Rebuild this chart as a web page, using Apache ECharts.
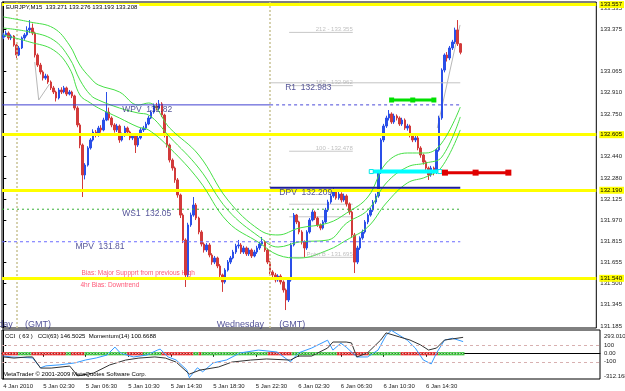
<!DOCTYPE html>
<html><head><meta charset="utf-8">
<script src="https://cdn.jsdelivr.net/npm/echarts@6/dist/echarts.min.js"></script>
<style>html,body{margin:0;padding:0;background:#fff}#c{width:625px;height:391px}</style>
</head><body><div id="c"></div>
<script>
// ---------------- DATA ----------------
const symbolName = 'EURJPY,M15';
const opens = [
133.320,133.336,133.350,133.314,133.328,133.262,133.188,133.240,133.314,133.336,
133.373,133.387,133.350,133.188,133.114,133.063,133.018,133.033,132.989,132.945,
132.915,132.871,132.930,132.915,132.945,132.900,132.915,132.886,132.797,132.672,
132.524,132.303,132.376,132.502,132.561,132.620,132.598,132.649,132.635,132.708,
132.767,132.723,132.672,132.635,132.664,132.561,132.598,132.649,132.620,132.576,
132.590,132.524,132.576,132.635,132.649,132.679,132.723,132.767,132.812,132.797,
132.827,132.745,132.598,132.524,132.413,132.354,132.266,132.155,132.007,131.823,
131.565,131.934,132.007,132.081,131.985,131.882,131.793,131.749,131.786,131.712,
131.660,131.690,131.631,131.565,131.513,131.601,131.660,131.690,131.734,131.779,
131.786,131.734,131.764,131.720,131.749,131.705,131.734,131.764,131.793,131.808,
131.749,131.660,131.587,131.565,131.528,131.557,131.513,131.454,131.380,131.528,
131.786,132.007,131.956,131.882,131.808,131.764,131.882,131.970,132.029,131.985,
131.934,131.911,131.956,132.044,132.103,132.148,132.177,132.133,132.162,132.118,
132.148,132.089,132.029,131.860,131.660,131.764,131.838,131.882,131.956,132.007,
132.044,132.103,132.148,132.325,132.561,132.664,132.723,132.753,132.694,132.738,
132.723,132.679,132.708,132.649,132.664,132.598,132.561,132.576,132.502,132.450,
132.398,132.354,132.303,132.354,132.325,132.487,132.723,133.077,133.188,133.166,
133.240,133.284,133.373,133.271];
const closes = [
133.336,133.350,133.314,133.328,133.262,133.188,133.240,133.314,133.336,133.373,
133.387,133.350,133.188,133.114,133.063,133.018,133.033,132.989,132.945,132.915,
132.871,132.930,132.915,132.945,132.900,132.915,132.886,132.797,132.672,132.524,
132.303,132.376,132.502,132.561,132.620,132.598,132.649,132.635,132.708,132.767,
132.723,132.672,132.635,132.664,132.561,132.598,132.649,132.620,132.576,132.590,
132.524,132.576,132.635,132.649,132.679,132.723,132.767,132.812,132.797,132.827,
132.745,132.598,132.524,132.413,132.354,132.266,132.155,132.007,131.823,131.565,
131.934,132.007,132.081,131.985,131.882,131.793,131.749,131.786,131.712,131.660,
131.690,131.631,131.565,131.513,131.601,131.660,131.690,131.734,131.779,131.786,
131.734,131.764,131.720,131.749,131.705,131.734,131.764,131.793,131.808,131.749,
131.660,131.587,131.565,131.528,131.557,131.513,131.454,131.380,131.528,131.786,
132.007,131.956,131.882,131.808,131.764,131.882,131.970,132.029,131.985,131.934,
131.911,131.956,132.044,132.103,132.148,132.177,132.133,132.162,132.118,132.148,
132.089,132.029,131.860,131.660,131.764,131.838,131.882,131.956,132.007,132.044,
132.103,132.148,132.325,132.561,132.664,132.723,132.753,132.694,132.738,132.723,
132.679,132.708,132.649,132.664,132.598,132.561,132.576,132.502,132.450,132.398,
132.354,132.303,132.354,132.325,132.487,132.723,133.077,133.188,133.166,133.240,
133.284,133.373,133.271,133.208];
const lows = [
133.305,133.322,133.300,133.298,133.250,133.166,133.180,133.232,133.300,133.325,
133.350,133.335,133.170,133.100,133.045,133.000,133.005,132.975,132.930,132.900,
132.845,132.860,132.900,132.905,132.885,132.890,132.870,132.780,132.655,132.500,
132.140,132.270,132.365,132.490,132.550,132.580,132.585,132.615,132.625,132.700,
132.705,132.655,132.615,132.620,132.540,132.550,132.585,132.600,132.560,132.560,
132.465,132.510,132.565,132.620,132.635,132.670,132.715,132.755,132.780,132.785,
132.730,132.580,132.505,132.395,132.335,132.245,132.135,131.985,131.800,131.476,
131.550,131.920,131.995,131.970,131.865,131.775,131.730,131.735,131.695,131.640,
131.645,131.615,131.545,131.440,131.500,131.590,131.645,131.680,131.720,131.760,
131.720,131.720,131.705,131.705,131.690,131.695,131.720,131.750,131.780,131.735,
131.645,131.570,131.545,131.510,131.515,131.495,131.435,131.306,131.365,131.515,
131.775,131.940,131.865,131.790,131.697,131.750,131.870,131.960,131.970,131.920,
131.895,131.900,131.945,132.030,132.090,132.135,132.120,132.120,132.100,132.105,
132.070,132.010,131.840,131.579,131.645,131.750,131.825,131.870,131.940,131.995,
132.030,132.090,132.135,132.310,132.545,132.650,132.705,132.680,132.680,132.705,
132.665,132.665,132.635,132.630,132.580,132.545,132.545,132.485,132.430,132.380,
132.335,132.266,132.290,132.300,132.310,132.475,132.710,133.060,133.140,133.150,
133.225,133.270,133.255,133.193];
const highs = [
133.352,133.368,133.362,133.340,133.335,133.270,133.255,133.325,133.350,133.400,
133.446,133.420,133.360,133.200,133.130,133.075,133.050,133.045,133.000,132.960,
132.925,132.945,132.950,132.960,132.955,132.930,132.925,132.895,132.810,132.685,
132.535,132.390,132.515,132.575,132.640,132.635,132.665,132.670,132.725,132.915,
132.800,132.735,132.685,132.680,132.675,132.615,132.665,132.660,132.630,132.610,
132.600,132.590,132.650,132.665,132.695,132.740,132.780,132.830,132.835,132.856,
132.840,132.755,132.610,132.535,132.425,132.365,132.280,132.165,132.020,131.835,
131.950,132.025,132.140,132.095,131.995,131.895,131.805,131.800,131.800,131.725,
131.705,131.700,131.645,131.575,131.615,131.675,131.705,131.750,131.795,131.823,
131.800,131.780,131.775,131.765,131.760,131.750,131.780,131.810,131.845,131.820,
131.760,131.670,131.600,131.580,131.570,131.570,131.525,131.465,131.540,131.800,
132.022,132.015,131.965,131.895,131.820,131.895,131.985,132.044,132.040,131.995,
131.945,131.970,132.060,132.120,132.165,132.214,132.190,132.180,132.175,132.165,
132.160,132.100,132.040,131.875,131.780,131.850,131.900,131.970,132.020,132.060,
132.118,132.165,132.340,132.575,132.680,132.740,132.782,132.765,132.755,132.750,
132.735,132.725,132.720,132.680,132.675,132.610,132.590,132.590,132.515,132.460,
132.410,132.365,132.370,132.365,132.500,132.740,133.090,133.200,133.210,133.255,
133.300,133.390,133.446,133.276];

// time axis labels (bar index -> label)
const timeIdx = [0,15,31,47,63,79,95,111,127,143,159];
const timeLabels = ['4 Jan 2010','5 Jan 02:30','5 Jan 06:30','5 Jan 10:30','5 Jan 14:30','5 Jan 18:30','5 Jan 22:30','6 Jan 02:30','6 Jan 06:30','6 Jan 10:30','6 Jan 14:30'];
const daySeparators = [5, 101];

// price axis tick labels
const priceTicks = [131.185,131.345,131.500,131.655,131.815,131.970,132.125,132.280,132.440,132.595,132.750,132.910,133.065,133.375,133.535];

// envelope moving averages (sampled)
const maIdx = [0,10,19,25,29,33,36,44,51,55,63,74,85,97,104,112,123,130,138,145,153,160,166,173];
const maUpper = [133.469,133.432,133.387,133.262,133.114,133.018,132.967,132.915,132.819,132.834,132.649,132.450,132.118,131.897,131.860,131.911,131.948,132.022,132.140,132.391,132.465,132.465,132.539,132.804];
const maMiddle = [133.387,133.358,133.299,133.166,133.004,132.893,132.856,132.797,132.760,132.745,132.583,132.354,132.044,131.845,131.771,131.808,131.823,131.948,132.044,132.244,132.362,132.391,132.435,132.731];
const maLower = [133.336,133.284,133.225,133.092,132.893,132.834,132.797,132.723,132.657,132.635,132.502,132.266,131.956,131.801,131.712,131.690,131.749,131.823,131.919,132.096,132.244,132.288,132.362,132.635];

// thin grey swing lines (bar index, price)
const swingIdx = [11.9, 13.4, 17.5, null, 164.3, 172.9];
const swingVals = [133.136, 132.856, 132.974, null, 132.649, 133.410];

// horizontal levels
const yellowLevels = [133.557, 132.605, 132.190, 131.540];
const pivotNames = ['WPV','R1','DPV','WS1','MPV'];
const pivotValues = [132.82, 132.983, 132.209, 132.05, 131.81];
const fibLabels = ['212 - 133.355','162 - 132.962','100 - 132.478','','','Point B - 131.695'];
const fibValues = [133.355, 132.962, 132.478, 132.087, 131.994, 131.695];
const greenLevel = 132.856, cyanLevel = 132.328, redLevel = 132.320;
const biasNotes = ['Bias: Major Suppprt from previous High', '4hr Bias: Downtrend'];

// sub window: CCI(63) & Momentum(14)
const cciIdx = [0,3,11,14,16,21,27,31,35,39,42,44,49,54,58,59,62,65,69,70,73,75,79,84,89,96,103,108,111,116,122,124,127,129,133,137,141,144,146,152,155,158,161,163,166,169,173];
const cciVals = [-28,-40,-52,-174,-150,-138,-113,-77,-52,-16,82,9,-40,-16,45,57,-40,-77,-199,-296,-174,-223,-113,-77,9,45,21,-101,9,70,167,45,130,82,-40,-40,45,228,289,167,70,-77,-126,9,167,191,150];
const momIdx = [0,4,9,11,14,18,25,28,34,40,46,51,57,61,65,70,74,81,86,93,99,108,111,116,122,124,129,131,133,137,142,144,149,153,157,160,163,166,169,173];
const momVals = [99.79,99.74,99.79,99.79,99.29,99.29,99.38,98.94,99.07,99.43,99.65,99.74,99.79,99.74,99.56,99.02,99.20,99.34,99.56,99.65,99.70,99.65,99.83,99.83,100.19,100.46,100.46,100.42,99.79,99.97,100.55,100.87,100.69,100.55,100.33,100.10,100.19,100.55,100.60,100.67];
// colour band runs (R = red, G = green), in bars
const bandRuns = [['R',6],['G',5],['R',13],['G',2],['R',5],['G',16],['R',6],['G',7],['R',12],['G',2],['R',1],['G',25],['R',9],['G',17],['R',12],['G',12],['R',14],['G',10]];
const cciLevels = [100, 0, -100];
const cciLevelText = ['100','0.00','-100'];
const cciMax = 293.010, cciMin = -312.168;
const cciLast = 146.5025, momLast = 100.6688;

// ---------------- BUILD ----------------
const SLOTS = 225;
const FONT = 'Liberation Sans';
const cats = Array.from({length: SLOTS}, (_, i) => String(i));
const nBars = closes.length;
const candleRows = closes.map((c, i) => [opens[i], c, lows[i], highs[i]]);
const bandColors = [];
bandRuns.forEach(([c, n]) => { for (let k = 0; k < n; k++) bandColors.push(c); });
const RED = '#e62a2a', GRN = '#3cc43c';
const pairs = (idx, vals) => idx.map((x, k) => [x, vals[k]]);
const last = nBars - 1;

const pivotSegs = [
  {v: pivotValues[0], a: -0.5, b: 101, color: '#4040d0', type: 'solid', w: 1},
  {v: pivotValues[0], a: 101, b: 173, color: '#4848d8', type: [3, 3], w: 1},
  {v: pivotValues[1], a: 101, b: 173, color: '#c4c4c4', type: 'solid', w: 1},
  {v: pivotValues[2], a: 101, b: 173, color: '#1e1e9a', type: 'solid', w: 2},
  {v: pivotValues[3], a: -0.5, b: 173, color: '#38b038', type: [2, 3], w: 1},
  {v: pivotValues[4], a: -0.5, b: 173, color: '#6c6cff', type: [3, 3], w: 1}
];

const navy = '#28287e';
const notes = [
  {t: pivotNames[0] + '  ' + pivotValues[0], x: 45.0, y: 132.782, c: navy, s: 8.5},
  {t: pivotNames[1] + '  ' + pivotValues[1], x: 106.7, y: 132.945, c: navy, s: 8.5},
  {t: pivotNames[2] + '  ' + pivotValues[2], x: 104.5, y: 132.170, c: navy, s: 8.5},
  {t: pivotNames[3] + '  ' + pivotValues[3], x: 45.0, y: 132.015, c: navy, s: 8.5},
  {t: pivotNames[4] + '  ' + pivotValues[4], x: 27.3, y: 131.775, c: navy, s: 8.5},
  {t: biasNotes[0], x: 29.6, y: 131.579, c: '#ff2d55', s: 6.5},
  {t: biasNotes[1], x: 29.2, y: 131.491, c: '#ff2d55', s: 6.5},
  {t: 'Tuesday', x: 3.6, y: 131.196, c: navy, s: 9, al: 'right'},
  {t: '(GMT)', x: 8.2, y: 131.196, c: navy, s: 9},
  {t: 'Wednesday', x: 80.8, y: 131.196, c: navy, s: 9},
  {t: '(GMT)', x: 104.5, y: 131.196, c: navy, s: 9}
];
fibLabels.forEach((t, k) => { if (t) notes.push({t, x: 132.3, y: fibValues[k], c: '#b0b0b0', s: 6, al: 'right', va: 'bottom'}); });

const series = [];
series.push({
  type: 'candlestick', name: symbolName, xAxisIndex: 0, yAxisIndex: 0, data: candleRows,
  barWidth: 2, z: 3,
  itemStyle: {color: '#2a4fe8', color0: '#d23a3a', borderColor: '#2a4fe8', borderColor0: '#d23a3a', borderWidth: 1},
  markLine: {
    silent: true, symbol: ['none', 'none'], animation: false, z: 4,
    data: [
      ...daySeparators.map(d => ({xAxis: cats[d], lineStyle: {color: '#c9c294', type: [2, 2], width: 1.5}, label: {show: false}})),
      ...yellowLevels.map(v => ({yAxis: v, lineStyle: {color: '#ffff00', type: 'solid', width: 3},
        label: {show: true, position: 'end', distance: 3, formatter: v.toFixed(3), backgroundColor: '#ffff00', color: '#000', fontSize: 6, fontFamily: FONT, padding: [1, 2, 0, 1]}})),
      {yAxis: closes[last], lineStyle: {opacity: 0}, label: {show: true, position: 'end', distance: 3, formatter: closes[last].toFixed(3), backgroundColor: '#000080', color: '#fff', fontSize: 6, fontFamily: FONT, padding: [2, 3, 1, 1]}}
    ]
  }
});
[maUpper, maMiddle, maLower].forEach(vals => series.push({
  type: 'line', xAxisIndex: 2, yAxisIndex: 0, data: pairs(maIdx, vals), smooth: 0.4, symbol: 'none',
  lineStyle: {color: '#46e046', width: 1}, z: 4, silent: true
}));
series.push({type: 'line', xAxisIndex: 2, yAxisIndex: 0, symbol: 'none', connectNulls: false, z: 2, silent: true,
  data: swingIdx.map((x, k) => x === null ? '-' : [x, swingVals[k]]), lineStyle: {color: '#b8b8b8', width: 1}});
pivotSegs.forEach(p => series.push({
  type: 'line', xAxisIndex: 2, yAxisIndex: 0, data: [[p.a, p.v], [p.b, p.v]], symbol: 'none',
  lineStyle: {color: p.color, type: p.type, width: p.w}, z: 4, silent: true
}));
fibValues.forEach(v => series.push({
  type: 'line', xAxisIndex: 2, yAxisIndex: 0, data: [[108.2, v], [132.3, v]], symbol: 'none',
  lineStyle: {color: '#c8c8c8', width: 1}, z: 2, silent: true
}));
series.push({type: 'line', xAxisIndex: 2, yAxisIndex: 0, data: [[147, greenLevel], [155, greenLevel], [163, greenLevel]],
  symbol: 'rect', symbolSize: [5, 5], itemStyle: {color: '#00e000'}, lineStyle: {color: '#00e000', width: 3}, z: 6, silent: true});
series.push({type: 'line', xAxisIndex: 2, yAxisIndex: 0, data: [[139.3, cyanLevel], [165.3, cyanLevel]],
  symbol: 'rect', symbolSize: [4, 4], itemStyle: {color: '#ffffff', borderColor: '#00e8e8', borderWidth: 1}, lineStyle: {color: '#00ffff', width: 4}, z: 6, silent: true});
series.push({type: 'line', xAxisIndex: 2, yAxisIndex: 0, data: [[167.2, redLevel], [178.8, redLevel], [191.2, redLevel]],
  symbol: 'rect', symbolSize: [6, 6], itemStyle: {color: '#e00000'}, lineStyle: {color: '#e00000', width: 3}, z: 6, silent: true});
series.push({
  type: 'scatter', xAxisIndex: 2, yAxisIndex: 0, symbolSize: 0, itemStyle: {color: 'rgba(0,0,0,0)'}, z: 8, silent: true,
  labelLayout: {hideOverlap: false},
  data: notes.map(n => ({value: [n.x, n.y], label: {show: true, position: 'inside', formatter: n.t, align: n.al || 'left', verticalAlign: n.va || 'middle', fontSize: n.s, color: n.c, fontFamily: FONT}}))
});
// sub window
series.push({type: 'bar', xAxisIndex: 1, yAxisIndex: 1, barWidth: '100%', barGap: '-100%', silent: true, z: 2,
  data: bandColors.map(c => ({value: 20, itemStyle: {color: c === 'R' ? RED : GRN}})),
  markLine: {silent: true, symbol: ['none', 'none'], animation: false, label: {show: false},
    data: [[{coord: [cats[0], 0]}, {coord: [cats[last], 0]}]], lineStyle: {color: '#ffffff', type: [1, 2], width: 1}}
});
series.push({type: 'bar', xAxisIndex: 1, yAxisIndex: 1, barWidth: '100%', barGap: '-100%', silent: true, z: 2,
  data: bandColors.map(c => ({value: -20, itemStyle: {color: c === 'R' ? RED : GRN}}))});
series.push({type: 'line', xAxisIndex: 3, yAxisIndex: 1, data: pairs(cciIdx, cciVals), symbol: 'none',
  lineStyle: {color: '#3399ff', width: 1}, z: 4, silent: true,
  markLine: {silent: true, symbol: ['none', 'none'], animation: false, label: {show: false},
    data: [{yAxis: 100}, {yAxis: -100}], lineStyle: {color: '#d8b0b0', type: [3, 3], width: 1}}});
series.push({type: 'line', xAxisIndex: 3, yAxisIndex: 2, data: pairs(momIdx, momVals), symbol: 'none',
  lineStyle: {color: '#333333', width: 1}, z: 4, silent: true});

const showIdx = (i) => timeIdx.indexOf(i) >= 0;
const option = {
  animation: false,
  backgroundColor: '#ffffff',
  textStyle: {fontFamily: FONT},
  grid: [
    {left: 2, right: 25, top: 2, height: 326, show: true, borderColor: '#000', borderWidth: 1},
    {left: 2, right: 25, top: 330, height: 49, show: true, borderColor: '#000', borderWidth: 1}
  ],
  xAxis: [
    {type: 'category', gridIndex: 0, data: cats, boundaryGap: true, show: false},
    {type: 'category', gridIndex: 1, data: cats, boundaryGap: true,
      axisLine: {show: true, lineStyle: {color: '#000'}},
      axisTick: {show: true, alignWithLabel: true, interval: showIdx, length: 3, lineStyle: {color: '#000'}},
      axisLabel: {interval: showIdx, formatter: (v, i) => timeLabels[timeIdx.indexOf(Number(v))] || '', align: 'left', fontSize: 6, color: '#222', margin: 4, fontFamily: FONT},
      splitLine: {show: false}},
    {type: 'value', gridIndex: 0, min: -0.5, max: SLOTS - 0.5, show: false},
    {type: 'value', gridIndex: 1, min: -0.5, max: SLOTS - 0.5, show: false}
  ],
  yAxis: [
    {type: 'value', gridIndex: 0, position: 'right', min: 131.1734, max: 133.5793,
      splitLine: {show: false}, axisLine: {show: true, lineStyle: {color: '#000'}},
      axisTick: {show: true, length: 3, customValues: priceTicks, lineStyle: {color: '#000'}},
      axisLabel: {customValues: priceTicks, formatter: v => v.toFixed(3), fontSize: 6, color: '#222', margin: 4, fontFamily: FONT}},
    {type: 'value', gridIndex: 1, position: 'right', min: cciMin, max: cciMax,
      splitLine: {show: false}, axisLine: {show: true, lineStyle: {color: '#000'}},
      axisTick: {show: true, length: 3, customValues: cciLevels, lineStyle: {color: '#000'}},
      axisLabel: {customValues: cciLevels, formatter: v => { const k = cciLevels.findIndex(t => Math.abs(t - v) < 1e-6); return k >= 0 ? cciLevelText[k] : ''; },
        fontSize: 6, color: '#222', margin: 4, fontFamily: FONT}},
    {type: 'value', gridIndex: 1, min: 98.8, max: 101.0, show: false}
  ],
  graphic: [
    {type: 'text', left: 4, top: 4, z: 100, style: {text: symbolName + '  ' + [opens[last], highs[last], lows[last], closes[last]].map(v => v.toFixed(3)).join(' '), fontSize: 6, fill: '#000', backgroundColor: '#fff', padding: [0, 2], fontFamily: FONT}},
    {type: 'text', left: 5, top: 333, z: 100, style: {text: 'CCI  ( 63 )   CCI(63) ' + cciLast.toFixed(4) + '  Momentum(14) ' + momLast.toFixed(4), fontSize: 6, fill: '#000', fontFamily: FONT}},
    {type: 'text', left: 3, top: 371, z: 100, style: {text: 'MetaTrader \u00A9 2001-2009 MetaQuotes Software Corp.', fontSize: 6, fill: '#000', fontFamily: FONT}}
  ],
  series
};
const chart = echarts.init(document.getElementById('c'), null, {renderer: 'canvas'});
chart.setOption(option);
// window extreme labels on the sub-window scale
const yTop = chart.convertToPixel({yAxisIndex: 1}, cciMax);
const yBot = chart.convertToPixel({yAxisIndex: 1}, cciMin);
chart.setOption({graphic: [
  {type: 'text', id: 'cmax', x: 604, y: yTop + 3, z: 100, style: {text: cciMax.toFixed(3), fontSize: 6, fill: '#222', fontFamily: FONT}},
  {type: 'text', id: 'cmin', x: 604, y: yBot - 6, z: 100, style: {text: cciMin.toFixed(3), fontSize: 6, fill: '#222', fontFamily: FONT}}
]});
</script>
</body></html>
